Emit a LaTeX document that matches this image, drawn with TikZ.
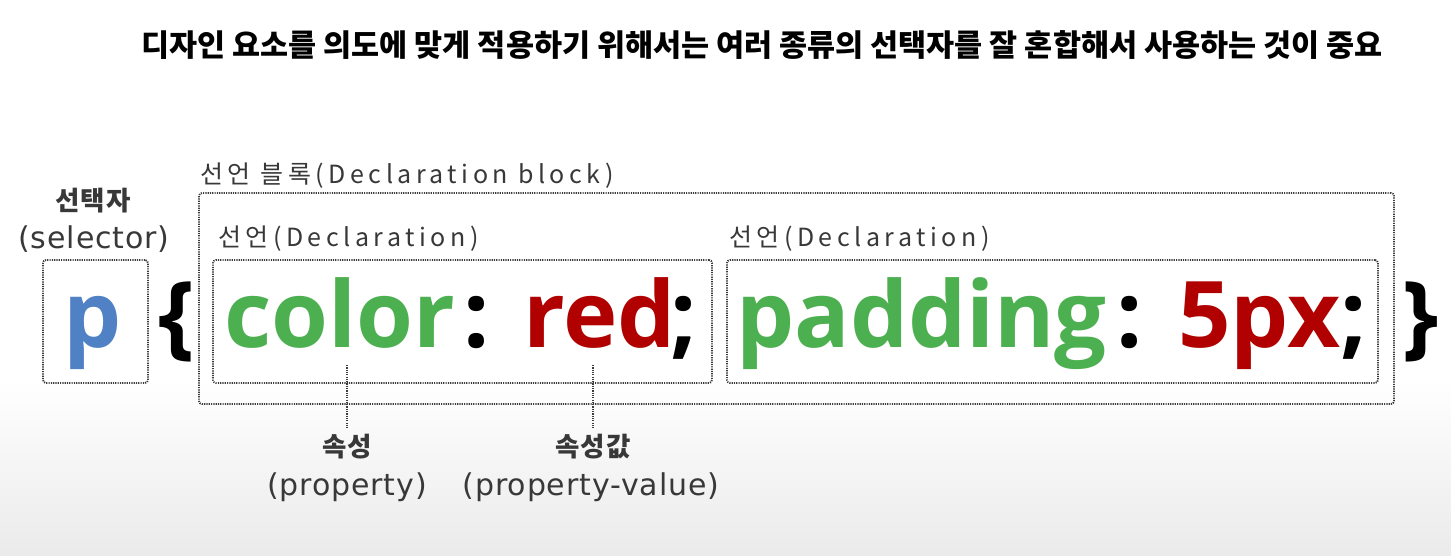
\documentclass[tikz,border=0pt]{standalone}
\usepackage{fontspec}
\setmainfont{Noto Sans CJK KR}
\newfontfamily\lblfont{Noto Sans CJK KR}[LetterSpace=18]
\newfontfamily\lblkofont{Noto Sans CJK KR}[LetterSpace=4]
\newfontfamily\lblenfont{DejaVu Sans}[LetterSpace=3]
\newfontfamily\codefont{Open Sans}
\definecolor{cssgreen}{RGB}{76,175,80}
\definecolor{cssred}{RGB}{176,0,0}
\definecolor{cssblue}{RGB}{79,129,196}
\definecolor{lblgray}{RGB}{56,56,56}
\definecolor{dotgray}{RGB}{60,60,60}
\begin{document}
\begin{tikzpicture}[x=1pt,y=-1pt,
  dotbox/.style={draw=dotgray, line width=1.8pt, dash pattern=on 1.2pt off 1.1pt, rounded corners=3pt, inner sep=0pt},
  dotline/.style={draw=dotgray, line width=1.8pt, dash pattern=on 1.2pt off 1.1pt},
  lbl/.style={text=lblgray, font=\lblfont\fontsize{25}{30}\selectfont, inner sep=0pt},
  lblko/.style={text=lblgray, font=\lblkofont\bfseries\fontsize{26.5}{30}\selectfont, inner sep=0pt},
  lblen/.style={text=lblgray, font=\lblenfont\fontsize{30}{36}\selectfont, inner sep=0pt},
  code/.style={font=\codefont\bfseries\fontsize{92}{110}\selectfont, inner sep=0pt, anchor=base west},
]
\useasboundingbox (0,0) rectangle (1451,555);
\fill[white] (0,0) rectangle (1451,380);
\shade[top color=white, bottom color=black!8] (0,380) rectangle (1451,555);

\node[font=\bfseries\fontsize{30.5}{36}\selectfont, inner sep=0pt] (title) at (762,45) {디자인 요소를 의도에 맞게 적용하기 위해서는 여러 종류의 선택자를 잘 혼합해서 사용하는 것이 중요};

% boxes
\node[dotbox, minimum width=105pt, minimum height=123pt] (selbox) at (95.5,321.5) {};
\node[dotbox, minimum width=1195pt, minimum height=211pt] (block) at (796.5,298.5) {};
\node[dotbox, minimum width=499pt, minimum height=123pt] (decl1) at (462.5,321.5) {};
\node[dotbox, minimum width=651pt, minimum height=123pt] (decl2) at (1052.5,321.5) {};

% labels
\node[lblko] (selko) at (93,201) {선택자};
\node[lblen] (selen) at (94,239) {(selector)};
\node[lbl, anchor=west] (blocklbl) at (200,176) {선언 블록(Declaration block)};
\node[lbl, anchor=west] (d1lbl) at (218,239) {선언(Declaration)};
\node[lbl, anchor=west] (d2lbl) at (729,239) {선언(Declaration)};

% code text
\node[code, text=cssblue] (p) at (63,347) {p};
\node[code] (lbrace) at (158,347) {\{};
\node[code, text=cssgreen] (color) at (224,347) {color};
\node[code] (colon1) at (463,347) {:};
\node[code, text=cssred] (red) at (523,347) {red};
\node[code] (semi1) at (670,347) {;};
\node[code, text=cssgreen] (padding) at (736,347) {padding};
\node[code] (colon2) at (1116,347) {:};
\node[code, text=cssred] (fivepx) at (1178,347) {5px};
\node[code] (semi2) at (1340,347) {;};
\node[code] (rbrace) at (1402,347) {\}};

% property labels
\coordinate (ptop) at (347,365);
\coordinate (vtop) at (593,365);
\node[lblko] (propko) at (347,447) {속성};
\node[lblen] (propen) at (347,487) {(property)};
\node[lblko] (valko) at (593,447) {속성값};
\node[lblen] (valen) at (591,487) {(property-value)};
\draw[dotline, shorten >=6pt] (ptop) -- (propko.north);
\draw[dotline, shorten >=6pt] (vtop) -- (valko.north);
\end{tikzpicture}
\end{document}
